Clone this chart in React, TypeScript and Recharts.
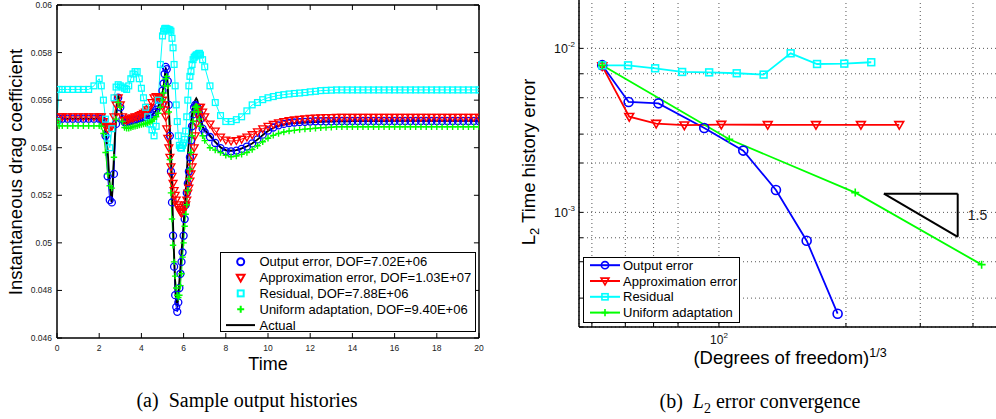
import React from 'react'
import {
  LineChart, Line, XAxis, YAxis, CartesianGrid, Legend, ReferenceLine,
} from 'recharts'

const SANS = '"Liberation Sans", Arial, Helvetica, sans-serif'
const SERIF = '"Liberation Serif", "Times New Roman", serif'

const BLUE = '#0000ff'
const RED = '#ff0000'
const CYAN = '#00ffff'
const GREEN = '#00ff00'

// ---------------- (a) sample output histories ----------------
const timeSteps = [
  0, 0.1, 0.25, 0.5, 0.75, 1, 1.25, 1.5, 1.75, 2,
  2.1, 2.2, 2.3, 2.4, 2.5, 2.6, 2.7, 2.8, 2.9, 3, 3.1, 3.2, 3.3, 3.4, 3.5, 3.6, 3.7, 3.8, 3.9, 4,
  4.1, 4.2, 4.3, 4.4, 4.5, 4.6, 4.7, 4.8, 4.9,
  5, 5.05, 5.1, 5.15, 5.2, 5.25, 5.3, 5.35, 5.4, 5.45, 5.5, 5.55, 5.6, 5.65, 5.7, 5.75, 5.8, 5.85,
  5.9, 5.95, 6, 6.05, 6.1, 6.15, 6.2, 6.25, 6.3, 6.35, 6.4, 6.45, 6.5, 6.55, 6.6, 6.65, 6.7, 6.75, 6.8,
  6.9, 7, 7.25, 7.5, 7.75, 8, 8.25, 8.5, 8.75, 9, 9.25, 9.5, 9.75, 10, 10.25, 10.5, 10.75, 11,
  11.25, 11.5, 11.75, 12, 12.25, 12.5, 12.75, 13, 13.25, 13.5, 13.75, 14, 14.25, 14.5, 14.75, 15,
  15.25, 15.5, 15.75, 16, 16.25, 16.5, 16.75, 17, 17.25, 17.5, 17.75, 18, 18.25, 18.5, 18.75, 19,
  19.25, 19.5, 19.75, 20,
]

const outputErrCd = [
  0.0551, 0.05522, 0.05522, 0.05522, 0.05522, 0.05522, 0.05522, 0.05522, 0.05522, 0.05522,
  0.05522, 0.0551, 0.0545, 0.0528, 0.0518, 0.0517, 0.0529, 0.055, 0.0561, 0.0557,
  0.0552, 0.05508, 0.05507, 0.0551, 0.05512, 0.05515, 0.05517, 0.0552, 0.05523, 0.05525,
  0.05528, 0.0553, 0.05533, 0.05536, 0.0554, 0.05548, 0.0556, 0.05575, 0.056,
  0.0564, 0.0567, 0.0571, 0.0574, 0.0573, 0.0568, 0.0558, 0.0545, 0.053, 0.0517,
  0.0503, 0.049, 0.0478, 0.0473, 0.0471, 0.0475, 0.0481, 0.0487, 0.0492, 0.0496,
  0.0503, 0.051, 0.0516, 0.0521, 0.0525, 0.053, 0.0536, 0.0543, 0.0549, 0.0554,
  0.0557, 0.0558, 0.05575, 0.0557, 0.0556, 0.0554, 0.0552,
  0.0548, 0.05465, 0.05445, 0.0542, 0.05398, 0.05386, 0.05385, 0.05388, 0.05395, 0.05405,
  0.05418, 0.05435, 0.05455, 0.05472, 0.05485, 0.05494, 0.055, 0.05504, 0.05506, 0.05508,
  0.05509, 0.0551, 0.05511, 0.05511, 0.05511, 0.05511,
  0.05512, 0.05512, 0.05512, 0.05512, 0.05512, 0.05512, 0.05512, 0.05512, 0.05512, 0.05512,
  0.05512, 0.05512, 0.05512, 0.05512, 0.05512, 0.05512, 0.05512, 0.05512, 0.05512, 0.05512,
  0.05512, 0.05512, 0.05512, 0.05512, 0.05512, 0.05512, 0.05512, 0.05512,
]

const approxErrCd = [
  0.0551, 0.0553, 0.0553, 0.0553, 0.0553, 0.0553, 0.0553, 0.0553, 0.0553, 0.0553,
  0.0553, 0.0551, 0.0549, 0.0548, 0.05485, 0.0549, 0.0553, 0.0558, 0.0561, 0.0558,
  0.0553, 0.05515, 0.05515, 0.0552, 0.05525, 0.05525, 0.0553, 0.0553, 0.05535, 0.0554,
  0.05545, 0.0555, 0.0556, 0.0557, 0.0559, 0.0561, 0.05615, 0.05615, 0.0561,
  0.056, 0.0558, 0.0556, 0.0553, 0.0548, 0.0544, 0.054, 0.0536, 0.0532, 0.0528,
  0.0525, 0.0522, 0.052, 0.0518, 0.0516, 0.0515, 0.0514, 0.0513, 0.05125, 0.0513,
  0.0514, 0.0515, 0.0516, 0.0518, 0.0521, 0.0523, 0.0526, 0.0529, 0.0532, 0.0536,
  0.054, 0.0545, 0.055, 0.0554, 0.0556, 0.0557, 0.0557,
  0.0555, 0.0553, 0.055, 0.0547, 0.05445, 0.05432, 0.05428, 0.0543, 0.05436, 0.05445,
  0.05455, 0.05467, 0.0548, 0.0549, 0.05498, 0.05505, 0.0551, 0.05514, 0.05517, 0.0552,
  0.05522, 0.05524, 0.05525, 0.05526, 0.05527, 0.05527,
  0.05528, 0.05528, 0.05528, 0.05528, 0.05528, 0.05528, 0.05528, 0.05528, 0.05528, 0.05528,
  0.05528, 0.05528, 0.05528, 0.05528, 0.05528, 0.05528, 0.05528, 0.05528, 0.05528, 0.05528,
  0.05528, 0.05528, 0.05528, 0.05528, 0.05528, 0.05528, 0.05528, 0.05528,
]

const residualCd = [
  0.0551, 0.05645, 0.05645, 0.05645, 0.05645, 0.05645, 0.05645, 0.05645, 0.0566, 0.0569,
  0.0566, 0.056, 0.0552, 0.0544, 0.054, 0.0548, 0.0561, 0.05655, 0.05665, 0.0566,
  0.05655, 0.0565, 0.05645, 0.0566, 0.0569, 0.0571, 0.0572, 0.0572, 0.0569, 0.0565,
  0.0561, 0.0557, 0.0553, 0.055, 0.05475, 0.0545, 0.0549, 0.056, 0.0575,
  0.0587, 0.0589, 0.059, 0.05902, 0.059, 0.05898, 0.05896, 0.05895, 0.0589, 0.0586,
  0.0582, 0.0575, 0.0566, 0.0558, 0.0551, 0.0545, 0.0541, 0.054, 0.05398, 0.0541,
  0.0542, 0.05435, 0.0547, 0.0553, 0.056, 0.0566, 0.057, 0.0572, 0.0575, 0.0577,
  0.0578, 0.05785, 0.0579, 0.0579, 0.05795, 0.05797, 0.0579,
  0.0577, 0.0574, 0.0566, 0.0559, 0.05535, 0.0551, 0.0551, 0.05518, 0.0553, 0.05555,
  0.0558, 0.0559, 0.05602, 0.0561, 0.05615, 0.0562, 0.05623, 0.05626, 0.05628, 0.0563,
  0.05632, 0.05635, 0.05637, 0.0564, 0.05641, 0.05642,
  0.05643, 0.05643, 0.05643, 0.05643, 0.05643, 0.05643, 0.05643, 0.05643, 0.05643, 0.05643,
  0.05643, 0.05643, 0.05643, 0.05643, 0.05643, 0.05643, 0.05643, 0.05643, 0.05643, 0.05643,
  0.05643, 0.05643, 0.05643, 0.05643, 0.05643, 0.05643, 0.05643, 0.05643,
]

const uniformCd = [
  0.0551, 0.05492, 0.05492, 0.05492, 0.05492, 0.05492, 0.05492, 0.05492, 0.05492, 0.05492,
  0.0549, 0.0546, 0.0538, 0.0529, 0.0524, 0.0523, 0.0536, 0.0552, 0.0559, 0.0557,
  0.0551, 0.05485, 0.05482, 0.05482, 0.05485, 0.05488, 0.0549, 0.05492, 0.05495, 0.05497,
  0.055, 0.05502, 0.05505, 0.05508, 0.05512, 0.0552, 0.0553, 0.05545, 0.0557,
  0.056, 0.0563, 0.0566, 0.0569, 0.057, 0.0566, 0.0555, 0.0535, 0.0521, 0.051,
  0.0499, 0.0492, 0.0486, 0.0481, 0.0478, 0.0477, 0.0478, 0.0482, 0.0487, 0.0494,
  0.05, 0.0507, 0.0512, 0.0516, 0.0522, 0.0527, 0.0531, 0.0538, 0.0545, 0.0551,
  0.0555, 0.0557, 0.05575, 0.0557, 0.0555, 0.0552, 0.0549,
  0.0545, 0.0543, 0.054, 0.0539, 0.0538, 0.05368, 0.05362, 0.05365, 0.05372, 0.0538,
  0.05392, 0.05408, 0.05425, 0.0544, 0.05452, 0.0546, 0.05466, 0.0547, 0.05473, 0.05476,
  0.05478, 0.0548, 0.05482, 0.05484, 0.05485, 0.05486,
  0.05488, 0.05488, 0.05488, 0.05488, 0.05488, 0.05488, 0.05488, 0.05488, 0.05488, 0.05488,
  0.05488, 0.05488, 0.05488, 0.05488, 0.05488, 0.05488, 0.05488, 0.05488, 0.05488, 0.05488,
  0.05488, 0.05488, 0.05488, 0.05488, 0.05488, 0.05488, 0.05488, 0.05488,
]

const actualCd = [
  0.0551, 0.05522, 0.05522, 0.05522, 0.05522, 0.05522, 0.05522, 0.05522, 0.05522, 0.05522,
  0.05522, 0.05515, 0.0547, 0.0539, 0.0524, 0.0517, 0.0537, 0.0554, 0.05625, 0.0558,
  0.0552, 0.05505, 0.05505, 0.05508, 0.0551, 0.05513, 0.05516, 0.05519, 0.05522, 0.05525,
  0.05527, 0.0553, 0.05532, 0.05535, 0.05538, 0.05545, 0.05558, 0.05572, 0.05595,
  0.0563, 0.05655, 0.0569, 0.0573, 0.05725, 0.0565, 0.0557, 0.0548, 0.0539, 0.0525,
  0.0508, 0.0495, 0.0484, 0.0475, 0.0474, 0.0479, 0.0484, 0.049, 0.0496, 0.0502,
  0.0508, 0.0515, 0.0522, 0.053, 0.0537, 0.0543, 0.0548, 0.0551, 0.0554, 0.0557,
  0.0559, 0.056, 0.05608, 0.056, 0.0558, 0.0556, 0.0553,
  0.0549, 0.05475, 0.05452, 0.05425, 0.05402, 0.0539, 0.05388, 0.0539, 0.05397, 0.05406,
  0.05418, 0.05434, 0.05453, 0.0547, 0.05483, 0.05492, 0.05497, 0.05501, 0.05503, 0.05505,
  0.05506, 0.05507, 0.05508, 0.05509, 0.0551, 0.0551,
  0.05511, 0.05511, 0.05511, 0.05512, 0.05512, 0.05512, 0.05512, 0.05512, 0.05512, 0.05512,
  0.05513, 0.05513, 0.05513, 0.05513, 0.05513, 0.05513, 0.05513, 0.05513, 0.05513, 0.05513,
  0.05513, 0.05513, 0.05513, 0.05513, 0.05513, 0.05513, 0.05513, 0.05513,
]

const timeTicks = [0, 2, 4, 6, 8, 10, 12, 14, 16, 18, 20]
const cdTicks = [0.046, 0.048, 0.05, 0.052, 0.054, 0.056, 0.058, 0.06]
const T_MIN = 0
const T_MAX = 20
const CD_MIN = 0.046
const CD_MAX = 0.06

const historyLegend = [
  { label: 'Output error, DOF=7.02E+06', shape: 'circle', color: BLUE },
  { label: 'Approximation error, DOF=1.03E+07', shape: 'triangle', color: RED },
  { label: 'Residual, DOF=7.88E+06', shape: 'square', color: CYAN },
  { label: 'Uniform adaptation, DOF=9.40E+06', shape: 'plus', color: GREEN },
  { label: 'Actual', shape: 'line', color: '#000' },
]

// ---------------- (b) L2 error convergence ----------------
const outputDof = [52.9, 61.1, 71.9, 92.3, 114.2, 136.5, 161.4, 191.1]
const outputL2 = [7.9e-3, 4.71e-3, 4.62e-3, 3.27e-3, 2.38e-3, 1.37e-3, 6.72e-4, 2.41e-4]
const approxDof = [52.9, 61.3, 71.0, 82.8, 101.3, 130.5, 169.8, 217.0, 267.5]
const approxL2 = [7.8e-3, 3.83e-3, 3.48e-3, 3.4e-3, 3.43e-3, 3.42e-3, 3.42e-3, 3.42e-3, 3.42e-3]
const residualDof = [52.9, 60.9, 70.6, 81.8, 94.8, 110.2, 127.6, 147.9, 170.8, 198.2, 229.6]
const residualL2 = [7.88e-3, 7.88e-3, 7.56e-3, 7.18e-3, 7.14e-3, 7.05e-3, 6.92e-3, 9.33e-3, 8.03e-3, 8.07e-3, 8.23e-3]
const uniformDof = [52.9, 105.8, 210.4, 419.3]
const uniformL2 = [7.88e-3, 2.79e-3, 1.32e-3, 4.8e-4]

const dofTicks = [50, 60, 70, 80, 90, 100, 200, 300, 400]
const l2Ticks = [
  2e-4, 3e-4, 4e-4, 5e-4, 6e-4, 7e-4, 8e-4, 9e-4, 1e-3,
  2e-3, 3e-3, 4e-3, 5e-3, 6e-3, 7e-3, 8e-3, 9e-3, 1e-2, 2e-2,
]
// slope-1.5 triangle
const slopeX = [246, 368]
const slopeY = [1.3e-3, 7.1e-4]

const convergenceLegend = [
  { label: 'Output error', shape: 'circle', color: BLUE },
  { label: 'Approximation error', shape: 'triangle', color: RED },
  { label: 'Residual', shape: 'square', color: CYAN },
  { label: 'Uniform adaptation', shape: 'plus', color: GREEN },
]

const historyRows = timeSteps.map((t, i) => ({
  t,
  output: outputErrCd[i],
  approx: approxErrCd[i],
  residual: residualCd[i],
  uniform: uniformCd[i],
  actual: actualCd[i],
}))

const toRows = (xs: number[], ys: number[]) => xs.map((x, i) => ({ x, y: ys[i] }))
const outputRows = toRows(outputDof, outputL2)
const approxRows = toRows(approxDof, approxL2)
const residualRows = toRows(residualDof, residualL2)
const uniformRows = toRows(uniformDof, uniformL2)

function Marker({ shape, cx, cy, size, color, width }: any) {
  if (shape === 'circle') {
    return <circle cx={cx} cy={cy} r={size} fill="none" stroke={color} strokeWidth={width} />
  }
  if (shape === 'triangle') {
    const d = `M${cx - size * 1.1},${cy - size * 0.8}L${cx + size * 1.1},${cy - size * 0.8}L${cx},${cy + size * 1.1}Z`
    return <path d={d} fill="none" stroke={color} strokeWidth={width} strokeLinejoin="miter" />
  }
  if (shape === 'square') {
    const s = size * 0.85
    return <rect x={cx - s} y={cy - s} width={2 * s} height={2 * s} fill="none" stroke={color} strokeWidth={width} />
  }
  if (shape === 'plus') {
    const d = `M${cx - size},${cy}H${cx + size}M${cx},${cy - size}V${cy + size}`
    return <path d={d} fill="none" stroke={color} strokeWidth={width} />
  }
  return null
}

const dotOf = (shape: string, color: string, size: number, width: number) => (props: any) => {
  const { cx, cy, index } = props
  if (cx == null || cy == null) return <g key={`m${index}`} />
  return (
    <g key={`m${index}`}>
      <Marker shape={shape} cx={cx} cy={cy} size={size} color={color} width={width} />
    </g>
  )
}

const fmtCd = (v: number) => String(parseFloat(v.toFixed(3)))

function HistoryLegend() {
  return (
    <svg width={256} height={80} style={{ display: 'block' }}>
      <rect x={0.5} y={0.5} width={255} height={79} fill="#fff" stroke="#000" strokeWidth={1} />
      {historyLegend.map((it, i) => {
        const y = 9.7 + i * 15.85
        return (
          <g key={it.label}>
            {it.shape === 'line'
              ? <line x1={6} x2={35} y1={y} y2={y} stroke="#000" strokeWidth={2} />
              : <Marker shape={it.shape} cx={20.7} cy={y} size={3.5} color={it.color} width={2} />}
            <text x={39.5} y={y + 4.6} fontSize={13} fontFamily={SANS} fill="#000">{it.label}</text>
          </g>
        )
      })}
    </svg>
  )
}

function ConvergenceLegend() {
  return (
    <svg width={157} height={66} style={{ display: 'block', overflow: 'visible' }}>
      <rect x={0.5} y={0.5} width={156} height={65} fill="#fff" stroke="#000" strokeWidth={1} />
      {convergenceLegend.map((it, i) => {
        const y = 8.2 + i * 15.8
        return (
          <g key={it.label}>
            <line x1={7} x2={37} y1={y} y2={y} stroke={it.color} strokeWidth={2} />
            <Marker shape={it.shape} cx={22} cy={y} size={3.6} color={it.color} width={1.6} />
            <text x={40} y={y + 4.6} fontSize={13} fontFamily={SANS} fill="#000">{it.label}</text>
          </g>
        )
      })}
    </svg>
  )
}

function HistoryChart() {
  const tickStyle = { fontSize: 8.5, fill: '#222', fontFamily: SANS }
  const frame = { stroke: '#000', strokeWidth: 1.5 }
  // inward tick length on the top / right frame, in data units (about 5px)
  const topTickLen = 0.00021
  const rightTickLen = 0.24
  return (
    <div style={{ position: 'absolute', left: 0, top: 0 }}>
      <LineChart width={490} height={419} data={historyRows} margin={{ top: 5, right: 11, bottom: 51, left: 0 }}>
        <XAxis dataKey="t" type="number" domain={[T_MIN, T_MAX]} ticks={timeTicks} allowDataOverflow
          height={30} tickSize={-5} tickMargin={12} tick={tickStyle} axisLine={frame} tickLine={{ stroke: '#000' }} />
        <YAxis type="number" domain={[CD_MIN, CD_MAX]} ticks={cdTicks} allowDataOverflow width={57}
          tickSize={-5} tickMargin={10} tick={tickStyle} tickFormatter={fmtCd} axisLine={frame}
          tickLine={{ stroke: '#000' }} />
        <ReferenceLine y={CD_MAX} stroke="#000" strokeWidth={1.5} ifOverflow="visible" />
        <ReferenceLine x={T_MAX} stroke="#000" strokeWidth={1.5} ifOverflow="visible" />
        {timeTicks.map((t) => (
          <ReferenceLine key={`tt${t}`} segment={[{ x: t, y: CD_MAX }, { x: t, y: CD_MAX - topTickLen }]}
            stroke="#000" strokeWidth={1} ifOverflow="visible" />
        ))}
        {cdTicks.map((v) => (
          <ReferenceLine key={`rt${v}`} segment={[{ x: T_MAX, y: v }, { x: T_MAX - rightTickLen, y: v }]}
            stroke="#000" strokeWidth={1} ifOverflow="visible" />
        ))}
        <Legend layout="vertical" align="center" verticalAlign="middle"
          wrapperStyle={{ left: 220, top: 252, width: 256, height: 80 }} content={() => <HistoryLegend />} />
        <Line dataKey="output" stroke={BLUE} strokeWidth={1} dot={dotOf('circle', BLUE, 3.5, 1.3)}
          activeDot={false} isAnimationActive={false} />
        <Line dataKey="approx" stroke={RED} strokeWidth={1} dot={dotOf('triangle', RED, 3.6, 1.3)}
          activeDot={false} isAnimationActive={false} />
        <Line dataKey="residual" stroke={CYAN} strokeWidth={1} dot={dotOf('square', CYAN, 3.4, 1.3)}
          activeDot={false} isAnimationActive={false} />
        <Line dataKey="uniform" stroke={GREEN} strokeWidth={1} dot={dotOf('plus', GREEN, 3.2, 1.4)}
          activeDot={false} isAnimationActive={false} />
        <Line dataKey="actual" stroke="#000" strokeWidth={1.8} dot={false}
          activeDot={false} isAnimationActive={false} />
      </LineChart>
    </div>
  )
}

function PowTickY(props: any) {
  const { x, y, payload } = props
  const e = Math.log10(payload.value)
  if (Math.abs(e - Math.round(e)) > 1e-6) return <g />
  return (
    <text x={x} y={y + 4.5} textAnchor="end" fontFamily={SANS} fill="#111">
      <tspan fontSize={12.5}>10</tspan>
      <tspan fontSize={8} dy={-6}>{String(Math.round(e))}</tspan>
    </text>
  )
}

function PowTickX(props: any) {
  const { x, y, payload } = props
  const e = Math.log10(payload.value)
  if (Math.abs(e - Math.round(e)) > 1e-6) return <g />
  return (
    <text x={x} y={y + 13} textAnchor="middle" fontFamily={SANS} fill="#111">
      <tspan fontSize={12}>10</tspan>
      <tspan fontSize={8} dy={-6.5}>{String(Math.round(e))}</tspan>
    </text>
  )
}

function ConvergenceChart() {
  const frame = { stroke: '#000', strokeWidth: 1.5 }
  return (
    <div style={{ position: 'absolute', left: 500, top: -1 }}>
      <LineChart width={500} height={420} margin={{ top: 0, right: 3, bottom: 62, left: 0 }}>
        <CartesianGrid stroke="#555" strokeDasharray="1 3" strokeWidth={1} />
        <XAxis dataKey="x" type="number" scale="log" domain={[46.6, 456]} ticks={dofTicks} allowDataOverflow
          height={30} tickSize={-4} tickMargin={8} tick={PowTickX} axisLine={frame} tickLine={{ stroke: '#000' }} />
        <YAxis type="number" scale="log" domain={[2e-4, 2e-2]} ticks={l2Ticks} allowDataOverflow width={79}
          tickSize={-4} tickMargin={8} tick={PowTickY} axisLine={frame} tickLine={{ stroke: '#000' }} />
        <Legend layout="vertical" align="center" verticalAlign="middle"
          wrapperStyle={{ left: 83, top: 258, width: 157, height: 66 }} content={() => <ConvergenceLegend />} />
        <ReferenceLine segment={[{ x: slopeX[0], y: slopeY[0] }, { x: slopeX[1], y: slopeY[0] }]}
          stroke="#000" strokeWidth={2} ifOverflow="visible" />
        <ReferenceLine segment={[{ x: slopeX[1], y: slopeY[0] }, { x: slopeX[1], y: slopeY[1] }]}
          stroke="#000" strokeWidth={2} ifOverflow="visible"
          label={{ value: '1.5', position: 'right', offset: 10, fontSize: 14, fill: '#222', fontFamily: SANS }} />
        <ReferenceLine segment={[{ x: slopeX[0], y: slopeY[0] }, { x: slopeX[1], y: slopeY[1] }]}
          stroke="#000" strokeWidth={2} ifOverflow="visible" />
        <Line data={outputRows} dataKey="y" stroke={BLUE} strokeWidth={1.8}
          dot={dotOf('circle', BLUE, 4.5, 1.6)} activeDot={false} isAnimationActive={false} />
        <Line data={approxRows} dataKey="y" stroke={RED} strokeWidth={1.8}
          dot={dotOf('triangle', RED, 4, 1.6)} activeDot={false} isAnimationActive={false} />
        <Line data={residualRows} dataKey="y" stroke={CYAN} strokeWidth={1.8}
          dot={dotOf('square', CYAN, 4, 1.6)} activeDot={false} isAnimationActive={false} />
        <Line data={uniformRows} dataKey="y" stroke={GREEN} strokeWidth={1.8}
          dot={dotOf('plus', GREEN, 4, 1.6)} activeDot={false} isAnimationActive={false} />
      </LineChart>
    </div>
  )
}

const centered = (left: number, top: number, extra: React.CSSProperties = {}): React.CSSProperties => ({
  position: 'absolute', left, top, transform: 'translate(-50%, -50%)', whiteSpace: 'nowrap',
  lineHeight: 1, color: '#000', ...extra,
})

export default function App() {
  return (
    <div style={{
      position: 'absolute', left: 0, top: 0, width: 996, height: 419, overflow: 'hidden',
      background: '#fff', fontFamily: SANS,
    }}>
      <HistoryChart />
      <ConvergenceChart />

      <div style={centered(16, 172, { fontSize: 18.5, transform: 'translate(-50%, -50%) rotate(-90deg)' })}>
        Instantaneous drag coefficient
      </div>
      <div style={centered(268, 364, { fontSize: 18 })}>Time</div>
      <div style={centered(247, 400, { fontSize: 20, fontFamily: SERIF })}>
        (a)&nbsp;&nbsp;Sample output histories
      </div>

      <div style={centered(529, 162, { fontSize: 18.5, transform: 'translate(-50%, -50%) rotate(-90deg)' })}>
        L<sub style={{ fontSize: 13, lineHeight: 0 }}>2</sub> Time history error
      </div>
      <div style={centered(790, 358, { fontSize: 18.5 })}>
        (Degrees of freedom)<sup style={{ fontSize: 12.5, lineHeight: 0 }}>1/3</sup>
      </div>
      <div style={centered(760, 401, { fontSize: 20, fontFamily: SERIF })}>
        (b)&nbsp;&nbsp;<i>L</i><sub style={{ fontSize: 14, lineHeight: 0 }}>2</sub> error convergence
      </div>
    </div>
  )
}
